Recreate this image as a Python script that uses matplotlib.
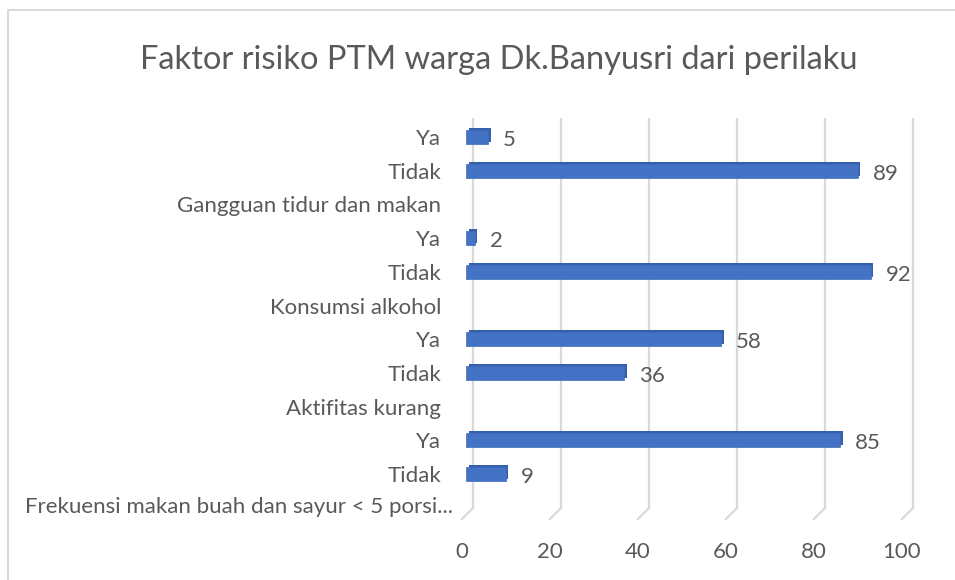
import matplotlib
matplotlib.use("Agg")
import matplotlib.pyplot as plt
import matplotlib.patches as mpatches
import matplotlib.transforms as mtransforms
import numpy as np

# data, bottom group first (Excel draws the first category at the bottom)
groups = ["Frekuensi makan buah dan sayur < 5 porsi...", "Aktifitas kurang",
          "Konsumsi alkohol", "Gangguan tidur dan makan"]
tidak = [9, 36, 92, 89]
ya = [85, 58, 2, 5]
answers = ["Tidak", "Ya"]
xticks = [0, 20, 40, 60, 80, 100]

TEXT = "#595959"
BAR = "#4472C4"
BAR_DARK = "#3560AE"
GRID = "#d9d9d9"

plt.rcParams["font.family"] = ["Lato", "DejaVu Sans"]

# build the flat multi-level row list: group label row, then Tidak, Ya
row_labels = []
row_values = []
for g, t, y in zip(groups, tidak, ya):
    row_labels += [g, answers[0], answers[1]]
    row_values += [np.nan, t, y]
row_pos = np.arange(len(row_labels))
row_values = np.array(row_values)

W, H = 955, 580
fig = plt.figure(figsize=(W / 100, H / 100), dpi=100)
fig.patch.set_facecolor("white")

# axes box in pixels: x 466..906, y 118..519 (top..bottom)
ax_l, ax_r, ax_t, ax_b = 466, 906, 118, 519
ax = fig.add_axes([ax_l / W, (H - ax_b) / H, (ax_r - ax_l) / W, (ax_b - ax_t) / H])
ax.set_xlim(0, 100)
ax.set_ylim(-0.33, 11.56)
for s in ax.spines.values():
    s.set_visible(False)

def px(dx, dy):
    return mtransforms.ScaledTranslation(dx / 100, dy / 100, fig.dpi_scale_trans)

xa = mtransforms.blended_transform_factory(ax.transData, ax.transAxes)

# back-wall gridlines (shifted right) with slanted feet onto the floor edge
foot = (ax_b - 508) / (ax_b - ax_t)
for t in xticks:
    ax.plot([t, t], [foot, 1.0], color=GRID, lw=1.6, transform=xa + px(7, 0),
            solid_capstyle="butt", zorder=0, clip_on=False)
    x0 = ax.transData.transform((t, 0))[0]
    ya0 = ax.transAxes.transform((0, foot))[1]
    yb0 = ax.transAxes.transform((0, 0))[1]
    fig.lines.append(plt.Line2D([(x0 + 7) / W, (x0 - 4) / W], [ya0 / H, yb0 / H],
                                color=GRID, lw=1.6, transform=fig.transFigure, zorder=0))

# bars: darker copy behind for depth, front face on top
mask = ~np.isnan(row_values)
bh = 14 / 33.7
ax.barh(row_pos[mask] + 0.06, row_values[mask], left=0.6, height=bh,
        color=BAR_DARK, zorder=2)
ax.barh(row_pos[mask], row_values[mask], height=bh, color=BAR,
        edgecolor="#3F6BBA", linewidth=0.5, zorder=3)

# value labels
for yv, v in zip(row_pos[mask], row_values[mask]):
    ax.text(v + 15 / 4.4, yv - 0.09, f"{int(v)}", va="center", ha="left",
            fontsize=16, color=TEXT, zorder=4)

# category labels
ax.set_yticks(row_pos)
ax.set_yticklabels(row_labels, fontsize=16, color=TEXT)
ax.tick_params(axis="y", length=0, pad=18)
# front-most label sits a bit further right in the 3D view
first = ax.get_yticklabels()[0]
first.set_transform(first.get_transform() + px(12, 3))

# value axis labels on the floor front edge
ax.set_xticks([])
for t in xticks:
    ax.text(t, 0, str(t), transform=xa + px(-4, -33),
            ha="center", va="center", fontsize=16, color=TEXT)

# title
fig.text(499 / W, (H - 69) / H, "Faktor risiko PTM warga Dk.Banyusri dari perilaku",
         ha="center", va="baseline", fontsize=23.5, color=TEXT)

# chart area border (runs off the right and bottom of the image)
fig.patches.append(mpatches.Rectangle((8 / W, -0.1), 1.2, (H - 10) / H + 0.1,
                                      transform=fig.transFigure, fill=False,
                                      edgecolor=GRID, lw=1.4))

fig.savefig("out.png", dpi=100)
